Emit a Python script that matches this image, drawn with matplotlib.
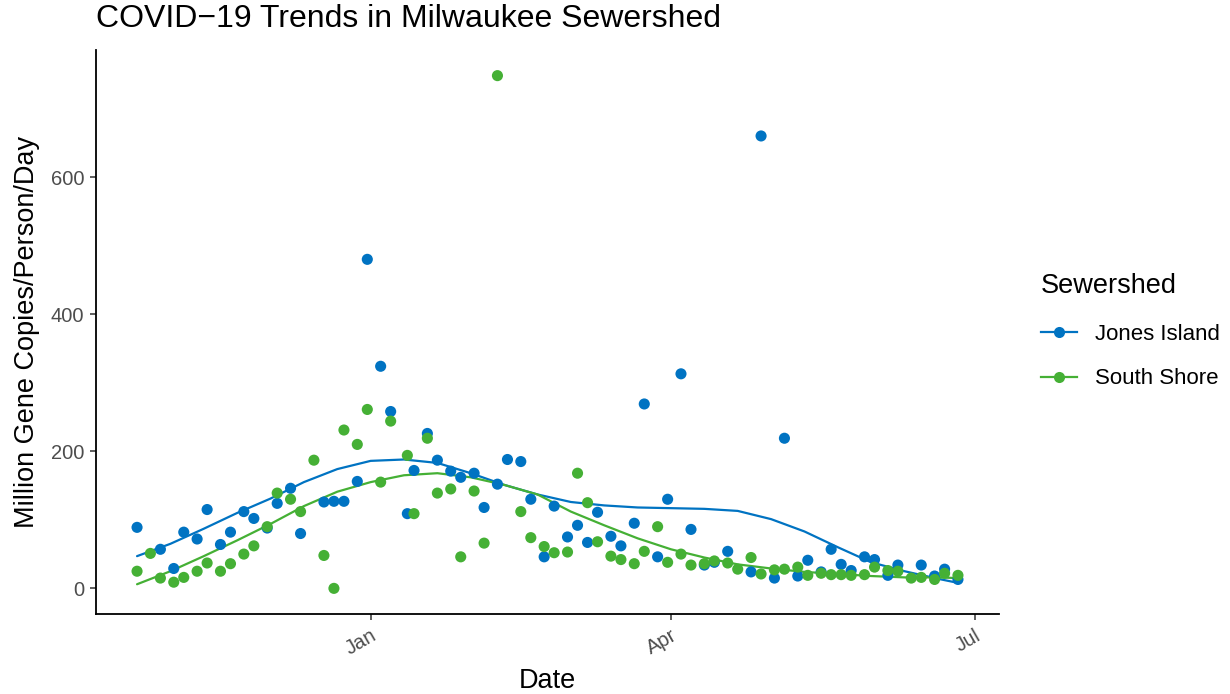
import numpy as np
import pandas as pd
import matplotlib
matplotlib.use("Agg")
import matplotlib.pyplot as plt
import matplotlib.dates as mdates
from matplotlib.lines import Line2D

plt.rcParams['font.family'] = ['Liberation Sans', 'DejaVu Sans']

# ---------------- data ----------------
dates = [
    "2020-10-23", "2020-10-27", "2020-10-30", "2020-11-03", "2020-11-06", "2020-11-10",
    "2020-11-13", "2020-11-17", "2020-11-20", "2020-11-24", "2020-11-27", "2020-12-01",
    "2020-12-04", "2020-12-08", "2020-12-11", "2020-12-15", "2020-12-18", "2020-12-21",
    "2020-12-24", "2020-12-28", "2020-12-31", "2021-01-04", "2021-01-07", "2021-01-12",
    "2021-01-14", "2021-01-18", "2021-01-21", "2021-01-25", "2021-01-28", "2021-02-01",
    "2021-02-04", "2021-02-08", "2021-02-11", "2021-02-15", "2021-02-18", "2021-02-22",
    "2021-02-25", "2021-03-01", "2021-03-04", "2021-03-07", "2021-03-10", "2021-03-14",
    "2021-03-17", "2021-03-21", "2021-03-24", "2021-03-28", "2021-03-31", "2021-04-04",
    "2021-04-07", "2021-04-11", "2021-04-14", "2021-04-18", "2021-04-21", "2021-04-25",
    "2021-04-28", "2021-05-02", "2021-05-05", "2021-05-09", "2021-05-12", "2021-05-16",
    "2021-05-19", "2021-05-22", "2021-05-25", "2021-05-29", "2021-06-01", "2021-06-05",
    "2021-06-08", "2021-06-12", "2021-06-15", "2021-06-19", "2021-06-22", "2021-06-26",
]
nan = np.nan
jones_island = [
    89, nan, 57, 29, 82, 72, 115, 64, 82, 112, 102, 88,
    124, 146, 80, nan, 126, 127, 127, 156, 480, 324, 258, 109,
    172, 226, 187, 171, 162, 168, 118, 152, 188, 185, 130, 46,
    120, 75, 92, 67, 111, 76, 62, 95, 269, 46, 130, 313,
    86, 34, 38, 54, nan, 24, 660, 15, 219, 18, 41, 24,
    57, 35, 26, 46, 42, 19, 34, nan, 34, 18, 28, 13,
]
south_shore = [
    25, 51, 15, 9, 16, 25, 37, 25, 36, 50, 62, 90,
    139, 130, 112, 187, 48, 0, 231, 210, 261, 155, 244, 194,
    109, 219, 139, 145, 46, 142, 66, 748, nan, 112, 74, 61,
    52, 53, 168, 125, 68, 47, 42, 36, 54, 90, 38, 50,
    34, 36, 40, 37, 28, 45, 21, 27, 28, 31, 19, 22,
    20, 20, 19, 20, 31, 26, 25, 15, 16, 13, 22, 19,
]

# smoothed trend lines (loess curves)
smooth_dates = [
    "2020-10-23", "2020-11-02", "2020-11-12", "2020-11-22", "2020-12-02", "2020-12-12",
    "2020-12-22", "2021-01-01", "2021-01-11", "2021-01-21", "2021-01-31", "2021-02-10",
    "2021-02-20", "2021-03-02", "2021-03-12", "2021-03-22", "2021-04-01", "2021-04-11",
    "2021-04-21", "2021-05-01", "2021-05-11", "2021-05-21", "2021-05-31", "2021-06-10",
    "2021-06-20", "2021-06-26",
]
jones_smooth = [
    47, 65, 87, 110, 131, 155, 174, 186, 188, 183, 168, 151,
    137, 126, 121, 118, 117, 116, 113, 101, 83, 60, 38, 25,
    14, 8,
]
south_smooth = [
    6, 25, 47, 70, 94, 120, 141, 155, 165, 168, 162, 151,
    137, 112, 92, 73, 57, 45, 35, 29, 24, 21, 18, 16,
    16, 15,
]

series_names = ["Jones Island", "South Shore"]
series_values = [jones_island, south_shore]
series_smooth = [jones_smooth, south_smooth]
series_colors = ["#0073C2", "#45B035"]

x_tick_dates = ["2021-01-01", "2021-04-01", "2021-07-01"]
x_tick_labels = ["Jan", "Apr", "Jul"]
y_ticks = [0, 200, 400, 600]

# ---------------- figure ----------------
W, H = 1230, 694
fig = plt.figure(figsize=(W / 100, H / 100), dpi=100)
ax = fig.add_axes([96 / W, 1 - 614 / H, (999 - 96) / W, (614 - 50) / H])

xnum = mdates.date2num(pd.to_datetime(pd.Series(dates)))
xs_smooth = mdates.date2num(pd.to_datetime(pd.Series(smooth_dates)))

for name, vals, sm, col in zip(series_names, series_values, series_smooth, series_colors):
    v = np.array(vals, dtype=float)
    m = ~np.isnan(v)
    ax.plot(xs_smooth, sm, color=col, lw=1.6, zorder=2,
            solid_joinstyle='round', solid_capstyle='round')
    ax.scatter(xnum[m], v[m], s=64, color=col, edgecolors='none', zorder=3)

all_y = np.array(jones_island + south_shore, dtype=float)
all_y = all_y[~np.isnan(all_y)]
xr = xnum.max() - xnum.min()
yr = all_y.max() - all_y.min()
ax.set_xlim(xnum.min() - 0.05 * xr, xnum.max() + 0.05 * xr)
ax.set_ylim(all_y.min() - 0.05 * yr, all_y.max() + 0.05 * yr)

ax.set_xticks(mdates.date2num(pd.to_datetime(x_tick_dates)))
ax.set_xticklabels(x_tick_labels, rotation=30, ha='right', rotation_mode='anchor')
ax.set_yticks(y_ticks)
ax.set_yticklabels([str(t) for t in y_ticks])

for sp in ['top', 'right']:
    ax.spines[sp].set_visible(False)
for sp in ['left', 'bottom']:
    ax.spines[sp].set_linewidth(1.3)
    ax.spines[sp].set_color('black')
ax.tick_params(axis='both', length=4.5, width=1.1, color='#333333',
               labelsize=14.5, labelcolor='#4D4D4D', pad=4)

ax.set_xlabel("Date", fontsize=19.5)
ax.set_ylabel("Million Gene Copies/Person/Day", fontsize=19.5)
ax.xaxis.label.set_va('center')
ax.yaxis.label.set_va('center')
ax.xaxis.set_label_coords(0.5, (614 - 681) / 564)
ax.yaxis.set_label_coords((27 - 96) / 903, 0.5)

fig.text(96 / W, 1 - 19 / H, "COVID\u221219 Trends in Milwaukee Sewershed",
         fontsize=23, ha='left', va='center')

handles = [Line2D([0], [0], color=c, lw=1.6, marker='o', markersize=8,
                  markeredgewidth=0) for c in series_colors]
leg = fig.legend(handles, series_names, title="Sewershed", loc='upper left',
                 bbox_to_anchor=(1041 / W, 1 - 273 / H), frameon=False,
                 fontsize=16, title_fontsize=19.5, handlelength=1.6,
                 labelspacing=1.05, handletextpad=0.85, borderaxespad=0,
                 borderpad=0)
leg._legend_box.align = "left"
leg._legend_box.sep = 18

fig.savefig("out.png", dpi=100)
